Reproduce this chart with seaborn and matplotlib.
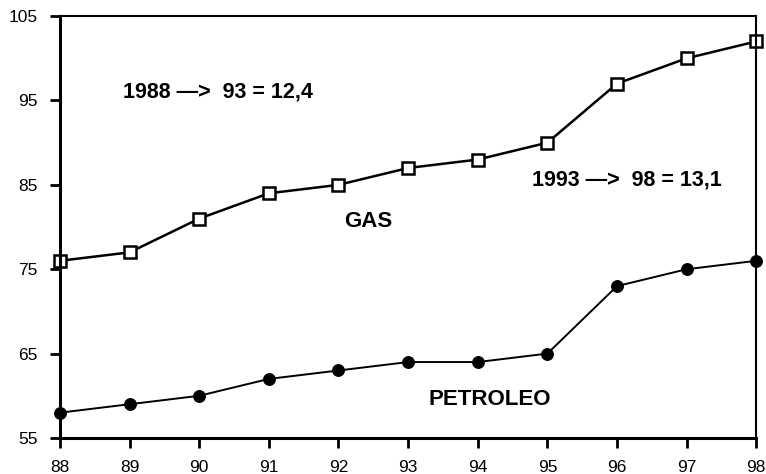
import matplotlib
matplotlib.use("Agg")
import matplotlib.pyplot as plt
import seaborn as sns
import pandas as pd

years = [88, 89, 90, 91, 92, 93, 94, 95, 96, 97, 98]
gas = [76, 77, 81, 84, 85, 87, 88, 90, 97, 100, 102]
petroleo = [58, 59, 60, 62, 63, 64, 64, 65, 73, 75, 76]
yticks = [55, 65, 75, 85, 95, 105]

sns.set_style("ticks")
plt.rcParams['font.family'] = ['Liberation Sans', 'DejaVu Sans']

df = pd.DataFrame({"year": years, "gas": gas, "petroleo": petroleo})

fig = plt.figure(figsize=(7.66, 4.74), dpi=100)
ax = fig.add_axes([0.0783, 0.076, 0.909, 0.890])

sns.lineplot(data=df, x="year", y="gas", ax=ax, color="black", linewidth=1.8,
             marker="s", markersize=9, markerfacecolor="white",
             markeredgecolor="black", markeredgewidth=1.8, clip_on=False)
sns.lineplot(data=df, x="year", y="petroleo", ax=ax, color="black", linewidth=1.4,
             marker="o", markersize=8.5, markerfacecolor="black",
             markeredgecolor="black", clip_on=False)

ax.set_xlim(88, 98)
ax.set_ylim(55, 105)
ax.set_xticks(years)
ax.set_xticklabels([str(y) for y in years])
ax.set_yticks(yticks)
ax.set_xlabel("")
ax.set_ylabel("")
for s in ax.spines.values():
    s.set_color("black")
    s.set_linewidth(1.5)
ax.spines["left"].set_linewidth(2.2)
ax.spines["bottom"].set_linewidth(2.2)
ax.tick_params(axis="both", direction="out", length=7, width=2, colors="black",
               labelsize=12.5)
ax.tick_params(axis="x", pad=9)
ax.tick_params(axis="y", pad=9)

bold = dict(fontweight="bold", color="black", va="baseline", ha="left")
ax.text(88.905, 95.32, "1988 \u2014>  93 = 12,4", fontsize=15.5, **bold)
ax.text(94.78, 84.98, "1993 \u2014>  98 = 13,1", fontsize=15.5, **bold)
ax.text(92.08, 80.04, "GAS", fontsize=16, **bold)
ax.text(93.29, 58.91, "PETROLEO", fontsize=16, **bold)

fig.savefig("out.png", dpi=100)
